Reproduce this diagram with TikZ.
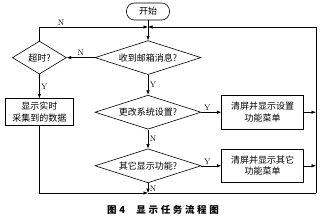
\documentclass[tikz,border=0pt]{standalone}
\usepackage{fontspec}
\newfontfamily\cjk{Noto Sans CJK SC}
\newfontfamily\cjkcap[LetterSpace=28]{Noto Sans CJK SC}
\usepackage{tikz}
\usetikzlibrary{arrows.meta, positioning, shapes.geometric}

\begin{document}
\begin{tikzpicture}[
  x=1pt, y=1pt,
  line width=0.6pt,
  terminal/.style={rectangle, draw, rounded corners=8pt, minimum width=43pt, minimum height=17pt, font=\cjk\fontsize{9}{11}\selectfont},
  decision/.style={diamond, draw, inner sep=0pt, aspect=3.2, minimum width=106pt, minimum height=34pt, font=\cjk\fontsize{9}{11}\selectfont},
  process/.style={rectangle, draw, minimum width=82pt, minimum height=34pt, align=center, font=\cjk\fontsize{9}{11.5}\selectfont},
  arrow/.style={-{Latex[length=4.5pt, width=3.5pt]}},
  yn/.style={font=\fontsize{8}{9}\selectfont, inner sep=1.5pt},
]
  \useasboundingbox (0,0) rectangle (320,-219);

  % Main column
  \node[terminal] (start) at (148,-11.5) {开始};
  \node[decision, below=20pt of start] (recv) {收到邮箱消息?};
  \node[decision, below=20pt of recv] (change) {更改系统设置?};
  \node[decision, below=19pt of change] (other) {其它显示功能?};

  % Left branch
  \node[decision, aspect=1.6, minimum width=54pt, minimum height=33pt, left=28pt of recv] (timeout) {超时?};
  \node[process, minimum width=68pt, minimum height=26pt, below=24pt of timeout] (showdata) {显示实时\\采集到的数据};

  % Right branch
  \node[process, right=20pt of change] (setmenu) {清屏并显示设置\\功能菜单};
  \node[process, minimum height=33pt, right=20pt of other] (othermenu) {清屏并显示其它\\功能菜单};

  % Return loop
  \coordinate (topjoin) at (148,-27);
  \coordinate (botjoin) at (148,-193);
  \coordinate (topright) at (316,-27);
  \coordinate (botright) at (316,-193);

  \draw[arrow] (start) -- (recv);
  \draw[arrow] (recv) -- node[yn, right] {Y} (change);
  \draw[arrow] (change) -- node[yn, right] {N} (other);
  \draw[arrow] (other) -- node[yn, right, pos=0.6] {N} (botjoin);
  \draw[arrow] (recv) -- node[yn, above] {N} (timeout);
  \draw[arrow] (timeout.north) |- node[yn, above, pos=0.6] {N} (topjoin);
  \draw[arrow] (timeout) -- node[yn, right] {Y} (showdata);
  \draw[arrow] (showdata.south) |- (botjoin);
  \draw (botjoin) -- (botright);
  \draw[arrow] (botright) -- (topright) -- (topjoin);
  \draw[arrow] (change) -- node[yn, above, pos=0.3] {Y} (setmenu);
  \draw[arrow] (other) -- node[yn, above, pos=0.3] {Y} (othermenu);
  \draw[arrow] (setmenu.east) -- (setmenu.east -| topright);
  \draw[arrow] (othermenu.east) -- (othermenu.east -| topright);

  % Caption
  \node[font=\cjkcap\bfseries\fontsize{9.5}{11}\selectfont] (caption) at (163,-210) {图4\hspace{1.2em}显示任务流程图};
\end{tikzpicture}
\end{document}
